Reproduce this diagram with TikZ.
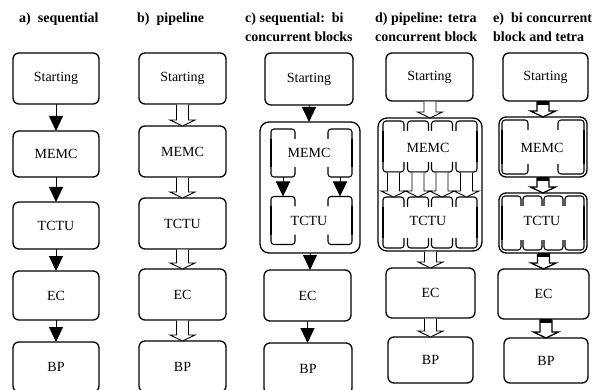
\documentclass[tikz,border=0pt]{standalone}
\usepackage{fontspec}
\setmainfont{Liberation Serif}
\usetikzlibrary{arrows.meta,calc}
\tikzset{
  box/.style={draw,line width=1.3pt,rounded corners=6pt,inner sep=0pt,outer sep=0pt,font=\fontsize{14}{16}\selectfont},
  cont/.style={draw,line width=1.3pt,rounded corners=9pt,inner sep=0pt,outer sep=0pt},
  subnode/.style={inner sep=0pt,outer sep=0pt},
  subline/.style={line width=1.1pt,rounded corners=3pt},
  sarrow/.style={line width=1pt,-{Triangle[width=14pt,length=15pt]}},
  harrow/.style={line width=0.9pt,fill=white,line join=miter},
  title/.style={font=\fontsize{14}{19}\selectfont\bfseries,anchor=north west,align=left,inner sep=0pt},
  lab/.style={font=\fontsize{14}{16}\selectfont}
}
\newcommand\hollowarrow[3][]{%
  \draw[harrow,#1] let \p1=(#2.south), \p2=(#3.north) in
    (\x2-6pt,\y1-0.6pt) -- (\x2-6pt,\y2+6pt) -- (\x2-12.5pt,\y2+6pt) -- (\x2,\y2)
    -- (\x2+12.5pt,\y2+6pt) -- (\x2+6pt,\y2+6pt) -- (\x2+6pt,\y1-0.6pt);}
\newcommand\brackets[1]{%
  \draw[subline] ([yshift=-10pt]#1.north west) -- (#1.north west) -- (#1.north east) -- ([yshift=-10pt]#1.north east)
    ([yshift=10pt]#1.south west) -- (#1.south west) -- (#1.south east) -- ([yshift=10pt]#1.south east);}
\begin{document}
\begin{tikzpicture}[x=1pt,y=-1pt,line join=round]
\useasboundingbox (0,0) rectangle (594,390);
\node[title] (tA) at (19,13) {a)\ \ sequential};
\node[title] (tB) at (137,13) {b)\ \ pipeline};
\node[title] (tC) at (245,13) {c) sequential:\ \ bi\\concurrent blocks};
\node[title] (tD) at (375,13) {d) pipeline: tetra\\concurrent block};
\node[title] (tE) at (493,13) {e)\ \ bi concurrent\\block and tetra};

\foreach \n/\y/\h/\t in {aS/78.5/51/Starting,aM/154/46/MEMC,aT/225.5/47/TCTU,aE/295.5/49/EC,aB/367/50/BP}
  \node[box,minimum width=86pt,minimum height=\h pt] (\n) at (56,\y) {\t};
\foreach \u/\v in {aS/aM,aM/aT,aT/aE,aE/aB}
  \draw[sarrow] (\u.south) -- (\u.south |- \v.north);

\foreach \n/\y/\t in {bS/78.5/Starting,bM/151.5/MEMC,bT/223.5/TCTU,bE/294.5/EC,bB/366.5/BP}
  \node[box,minimum width=87pt,minimum height=51pt] (\n) at (182.5,\y) {\t};
\foreach \u/\v in {bS/bM,bM/bT,bT/bE,bE/bB}
  \hollowarrow{\u}{\v};

\node[box,minimum width=88pt,minimum height=52pt] (cS) at (309,79) {Starting};
\node[cont,minimum width=100pt,minimum height=131pt] (cC) at (310,187.5) {};
\foreach \n/\x/\y in {cM1/283/153,cM2/340/153,cT1/283/220.5,cT2/340/220.5}
  {\node[subnode,minimum width=24pt,minimum height=48pt] (\n) at (\x,\y) {};
   \brackets{\n}}
\draw[subline] ([yshift=-10pt]cM1.north west) -- ([yshift=10pt]cM1.south west)
  ([yshift=-10pt]cT1.north west) -- ([yshift=10pt]cT1.south west)
  ([yshift=-10pt]cM2.north east) -- ([yshift=10pt]cM2.south east)
  ([yshift=-10pt]cT2.north east) -- ([yshift=10pt]cT2.south east);
\node[lab] (cMl) at (309,153) {MEMC};
\node[lab] (cTl) at (309,221) {TCTU};
\node[box,minimum width=87pt,minimum height=51pt] (cE) at (307.5,295.5) {EC};
\node[box,minimum width=88pt,minimum height=51pt] (cB) at (308,368.5) {BP};
\foreach \u/\v in {cS/cC,cM1/cT1,cM2/cT2,cC/cE,cE/cB}
  \draw[sarrow] (\u.south) -- (\u.south |- \v.north);

\node[box,minimum width=87pt,minimum height=48pt] (dS) at (429.5,77) {Starting};
\node[cont,minimum width=104pt,minimum height=133pt] (dC) at (430,184.5) {};
\foreach \i/\x in {1/393.5,2/418,3/442,4/466.5}
  {\node[subnode,minimum width=21pt,minimum height=51pt] (dM\i) at (\x,146.5) {};
   \node[subnode,minimum width=21pt,minimum height=51pt] (dT\i) at (\x,222.5) {};
   \brackets{dM\i}\brackets{dT\i}}
\draw[subline] ([yshift=-10pt]dM1.north west) -- ([yshift=10pt]dM1.south west)
  ([yshift=-10pt]dT1.north west) -- ([yshift=10pt]dT1.south west)
  ([yshift=-10pt]dM4.north east) -- ([yshift=10pt]dM4.south east)
  ([yshift=-10pt]dT4.north east) -- ([yshift=10pt]dT4.south east);
\node[lab] (dMl) at (428,148) {MEMC};
\node[lab] (dTl) at (428,221) {TCTU};
\node[box,minimum width=89pt,minimum height=50pt] (dE) at (430.5,293) {EC};
\node[box,minimum width=85pt,minimum height=46pt] (dB) at (430.5,360) {BP};
\hollowarrow{dS}{dC}
\foreach \i in {1,...,4}
  \hollowarrow{dM\i}{dT\i};
\hollowarrow{dC}{dE}
\hollowarrow{dE}{dB}

\node[box,minimum width=85pt,minimum height=48pt] (eS) at (545.5,77) {Starting};
\node[cont,rounded corners=7pt,minimum width=88pt,minimum height=60pt] (eMC) at (543,147) {};
\node[cont,rounded corners=7pt,minimum width=88pt,minimum height=60pt] (eTC) at (543,223) {};
\foreach \n/\x in {eM1/515,eM2/571}
  {\node[subnode,minimum width=26pt,minimum height=54pt] (\n) at (\x,147) {};
   \brackets{\n}}
\foreach \n/\x in {eT1/511.5,eT2/532.5,eT3/553.5,eT4/574.5}
  {\node[subnode,minimum width=19pt,minimum height=54pt] (\n) at (\x,223) {};
   \brackets{\n}}
\draw[subline] ([yshift=-10pt]eM1.north west) -- ([yshift=10pt]eM1.south west)
  ([yshift=-10pt]eT1.north west) -- ([yshift=10pt]eT1.south west)
  ([yshift=-10pt]eM2.north east) -- ([yshift=10pt]eM2.south east)
  ([yshift=-10pt]eT4.north east) -- ([yshift=10pt]eT4.south east);
\node[lab] (eMl) at (542,148) {MEMC};
\node[lab] (eTl) at (542,221) {TCTU};
\node[box,minimum width=91pt,minimum height=50pt] (eE) at (543.5,294) {EC};
\node[box,minimum width=84pt,minimum height=45pt] (eB) at (546,360.5) {BP};
\foreach \u/\v in {eS/eMC,eMC/eTC,eTC/eE,eE/eB}
  {\hollowarrow[line width=1.3pt]{\u}{\v}
   \fill let \p1=(\u.south), \p2=(\v.north) in (\x2-6pt,\y1) rectangle (\x2+6pt,\y1-4pt);}
\end{tikzpicture}
\end{document}
